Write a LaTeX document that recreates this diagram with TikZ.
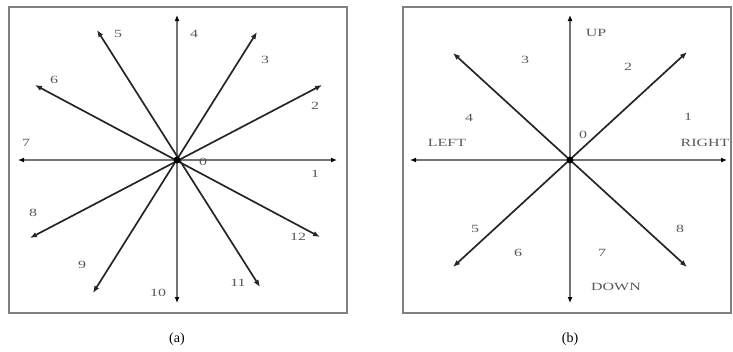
\documentclass[tikz,border=0pt]{standalone}
\usepackage{fontspec}
\setmainfont{Liberation Serif}
\usepackage{graphicx}
\usetikzlibrary{arrows.meta}
\newcommand{\lbl}[1]{\scalebox{1.45}[1]{#1}}
\tikzset{
  frame/.style={draw=black!50, line width=1.8pt},
  axis/.style={draw=black!55, line width=1.5pt, {Latex[length=6pt,width=5pt,black]}-{Latex[length=6pt,width=5pt,black]}},
  diag/.style={draw=black!85, line width=1.7pt, {Latex[length=7pt,width=5.5pt]}-{Latex[length=7pt,width=5.5pt]}},
  lab/.style={text=black!65, font=\fontsize{11}{12}\selectfont, inner sep=0pt},
  captext/.style={text=black, font=\fontsize{14}{16}\selectfont, inner sep=0pt},
  dot/.style={circle, fill=black, inner sep=0pt, minimum size=7pt}
}
\begin{document}
\begin{tikzpicture}[x=1pt,y=-1pt]
\useasboundingbox (0,0) rectangle (733,351);
% ---------- panel (a)
\draw[frame] (9,7) rectangle (347,313);
\coordinate (ac) at (177,160);
\coordinate (aW) at (18,160);  \coordinate (aE) at (337,160);
\coordinate (aN) at (177,15);  \coordinate (aS) at (177,303);
\coordinate (a5) at (97,30);   \coordinate (a11) at (260,287);
\coordinate (a3) at (257,32);  \coordinate (a9) at (93,293);
\coordinate (a2) at (322,85);  \coordinate (a8) at (30,238);
\coordinate (a6) at (35,85);   \coordinate (a12) at (320,237);
\draw[axis] (aW) -- (aE);
\draw[axis] (aN) -- (aS);
\draw[diag] (a5) -- (a11);
\draw[diag] (a3) -- (a9);
\draw[diag] (a2) -- (a8);
\draw[diag] (a6) -- (a12);
\node[dot] (adot) at (ac) {};
\node[lab] (la0) at (203,162) {\lbl{0}};
\node[lab] (la1) at (315,174) {\lbl{1}};
\node[lab] (la2) at (315,106) {\lbl{2}};
\node[lab] (la3) at (265,60) {\lbl{3}};
\node[lab] (la4) at (194,34) {\lbl{4}};
\node[lab] (la5) at (118,34) {\lbl{5}};
\node[lab] (la6) at (54,80) {\lbl{6}};
\node[lab] (la7) at (26,143) {\lbl{7}};
\node[lab] (la8) at (33,213) {\lbl{8}};
\node[lab] (la9) at (82,265) {\lbl{9}};
\node[lab] (la10) at (158,293) {\lbl{10}};
\node[lab] (la11) at (238,283) {\lbl{11}};
\node[lab] (la12) at (298,237) {\lbl{12}};
\node[captext] (capa) at (177,339) {(a)};
% ---------- panel (b)
\draw[frame] (403,7) rectangle (731,313);
\coordinate (bc) at (570,160);
\coordinate (bW) at (410,160);  \coordinate (bE) at (727,160);
\coordinate (bN) at (570,15);   \coordinate (bS) at (570,303);
\coordinate (bNE) at (687,52);  \coordinate (bSW) at (453,267);
\coordinate (bNW) at (453,53);  \coordinate (bSE) at (687,267);
\draw[axis] (bW) -- (bE);
\draw[axis] (bN) -- (bS);
\draw[diag] (bNE) -- (bSW);
\draw[diag] (bNW) -- (bSE);
\node[dot] (bdot) at (bc) {};
\node[lab] (lbup) at (596,33) {\lbl{UP}};
\node[lab] (lbdown) at (616,287) {\lbl{DOWN}};
\node[lab] (lbleft) at (447,143) {\lbl{LEFT}};
\node[lab] (lbright) at (705,143) {\lbl{RIGHT}};
\node[lab] (lb0) at (583,135) {\lbl{0}};
\node[lab] (lb1) at (688,117) {\lbl{1}};
\node[lab] (lb2) at (628,67) {\lbl{2}};
\node[lab] (lb3) at (525,60) {\lbl{3}};
\node[lab] (lb4) at (469,118) {\lbl{4}};
\node[lab] (lb5) at (475,229) {\lbl{5}};
\node[lab] (lb6) at (518,253) {\lbl{6}};
\node[lab] (lb7) at (602,253) {\lbl{7}};
\node[lab] (lb8) at (680,229) {\lbl{8}};
\node[captext] (capb) at (570,339) {(b)};
\end{tikzpicture}
\end{document}
